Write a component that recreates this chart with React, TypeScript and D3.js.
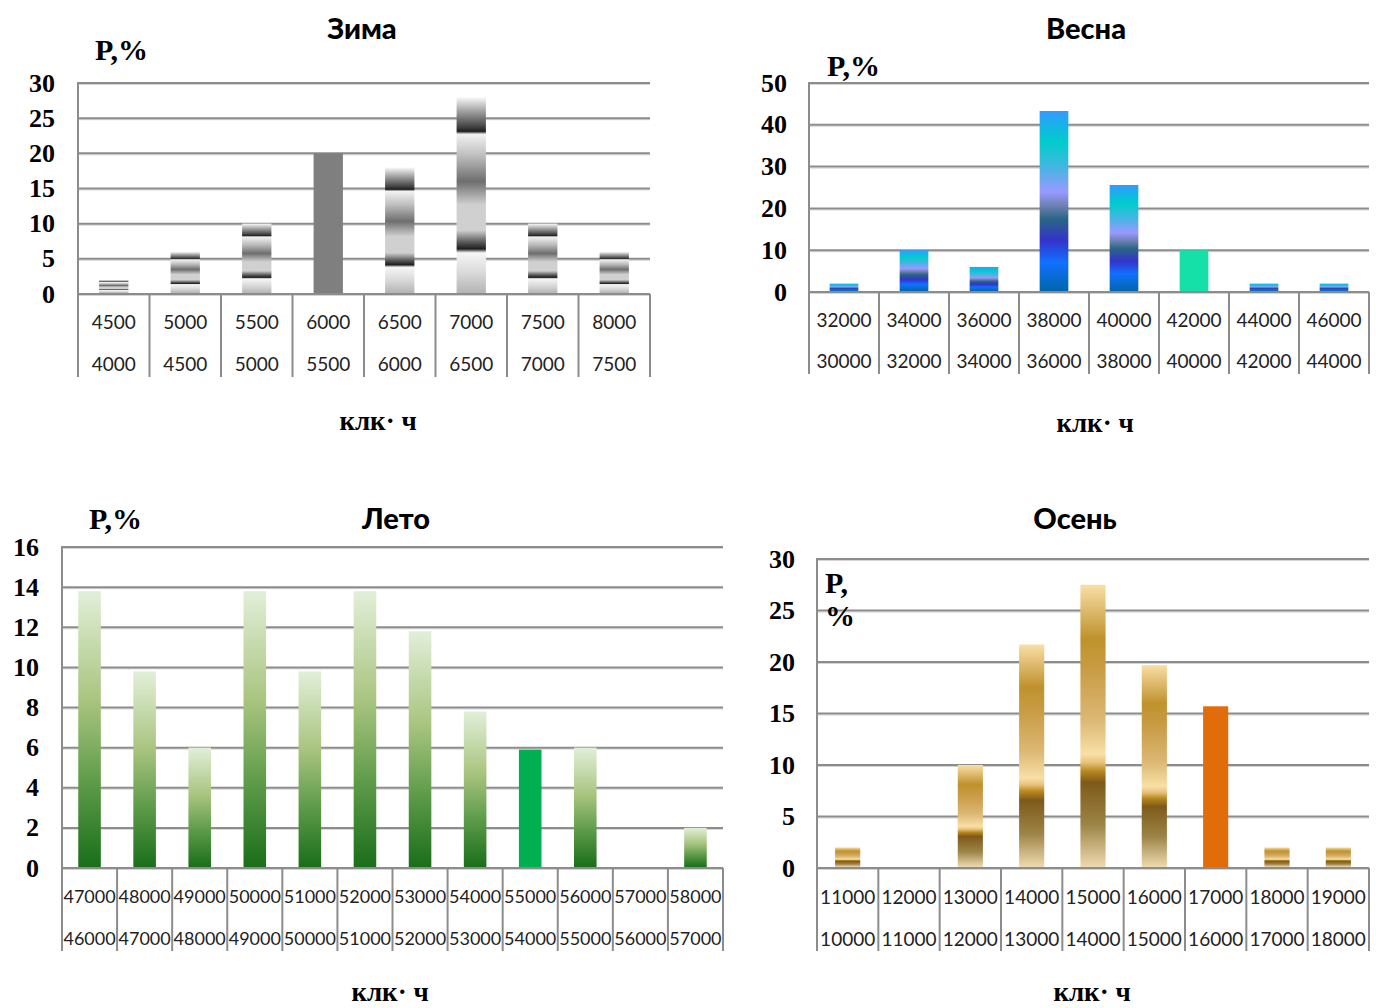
import React from "react";
import * as d3 from "d3";

// ---- data ----
const winterUpper = ["4500", "5000", "5500", "6000", "6500", "7000", "7500", "8000"];
const winterLower = ["4000", "4500", "5000", "5500", "6000", "6500", "7000", "7500"];
const winterValues = [2, 6, 10, 20, 18, 28, 10, 6];
const winterTicks = [0, 5, 10, 15, 20, 25, 30];

const springUpper = ["32000", "34000", "36000", "38000", "40000", "42000", "44000", "46000"];
const springLower = ["30000", "32000", "34000", "36000", "38000", "40000", "42000", "44000"];
const springValues = [2, 10, 6, 43.3, 25.6, 10, 2, 2];
const springTicks = [0, 10, 20, 30, 40, 50];

const summerUpper = ["47000", "48000", "49000", "50000", "51000", "52000", "53000", "54000", "55000", "56000", "57000", "58000"];
const summerLower = ["46000", "47000", "48000", "49000", "50000", "51000", "52000", "53000", "54000", "55000", "56000", "57000"];
const summerValues = [13.8, 9.8, 6, 13.8, 9.8, 13.8, 11.8, 7.8, 5.9, 6, 0, 2];
const summerTicks = [0, 2, 4, 6, 8, 10, 12, 14, 16];

const autumnUpper = ["11000", "12000", "13000", "14000", "15000", "16000", "17000", "18000", "19000"];
const autumnLower = ["10000", "11000", "12000", "13000", "14000", "15000", "16000", "17000", "18000"];
const autumnValues = [2, 0, 10, 21.7, 27.5, 19.7, 15.7, 2, 2];
const autumnTicks = [0, 5, 10, 15, 20, 25, 30];

const xTitle = "клк· ч";

// ---- gradients ----
type Stop = [number, string];
const chromeStops: Stop[] = [
  [0, "#fafafa"], [0.06, "#b0b0b0"], [0.15, "#454545"], [0.175, "#202020"], [0.19, "#f2f2f2"],
  [0.3, "#bdbdbd"], [0.43, "#6e6e6e"], [0.55, "#d0d0d0"], [0.68, "#d0d0d0"], [0.74, "#5a5a5a"],
  [0.775, "#1e1e1e"], [0.795, "#f6f6f6"], [0.9, "#d8d8d8"], [1, "#b4b4b4"],
];
const blueStops: Stop[] = [
  [0, "#3399ff"], [0.08, "#17b3e8"], [0.17, "#00cccc"], [0.3, "#3db8e0"], [0.45, "#9999ff"],
  [0.53, "#6a7fb0"], [0.6, "#2a6585"], [0.72, "#3333cc"], [0.84, "#1170ff"], [1, "#0066aa"],
];
const greenStops: Stop[] = [
  [0, "#e2efd9"], [0.4, "#a8c47e"], [0.7, "#5c9a48"], [1, "#1a6e1a"],
];
const goldStops: Stop[] = [
  [0, "#f9e0a6"], [0.07, "#e4c27a"], [0.19, "#bf922c"], [0.3, "#c99c45"], [0.48, "#dcb874"],
  [0.6, "#f8e0a6"], [0.63, "#e8c27a"], [0.66, "#b8891f"], [0.7, "#7e5a1a"], [0.85, "#9c8447"], [1, "#efdab0"],
];

interface PanelProps {
  id: string;
  title: string;
  upper: string[];
  lower: string[];
  values: number[];
  ticks: number[];
  stops: Stop[];
  solidIndex: number;
  solidColor: string;
  left: number; right: number; top: number; bottom: number; tableBottom: number;
  row1: number; row2: number;
  tickRight: number;
  titlePos: [number, number];
  yLabelLines: string[];
  yLabelPos: [number, number];
  yLabelGap: number;
  xLabelPos: [number, number];
  catFont: number;
}

const GRID = "#8c8c8c";

function Panel(p: PanelProps) {
  const cats = p.upper.map((_, i) => String(i));
  const x = d3.scaleBand().domain(cats).range([p.left, p.right]).paddingInner(0).paddingOuter(0);
  const y = d3.scaleLinear().domain([0, d3.max(p.ticks) as number]).range([p.bottom, p.top]);
  const bw = x.bandwidth() * 0.41;
  const bounds = cats.map((c) => x(c) as number).concat([p.right]);
  return (
    <g>
      <defs>
        <linearGradient id={p.id} x1="0" y1="0" x2="0" y2="1">
          {p.stops.map(([o, c], i) => (
            <stop key={i} offset={o} stopColor={c} />
          ))}
        </linearGradient>
      </defs>
      {p.ticks.map((t) => (
        <g key={t}>
          <line x1={p.left} x2={p.right} y1={y(t) + 1.5} y2={y(t) + 1.5} stroke="#d4d4d4" strokeWidth={1} />
          <line x1={p.left} x2={p.right} y1={y(t)} y2={y(t)} stroke={GRID} strokeWidth={2} />
          <text x={p.tickRight} y={y(t)} textAnchor="end" dominantBaseline="central"
            fontFamily="'Liberation Serif', serif" fontWeight="bold" fontSize={26} fill="#000">{t}</text>
        </g>
      ))}
      <line x1={p.left} x2={p.left} y1={p.top - 1} y2={p.tableBottom} stroke={GRID} strokeWidth={2} />
      {bounds.slice(1).map((bx, i) => (
        <line key={i} x1={bx} x2={bx} y1={p.bottom} y2={p.tableBottom} stroke={GRID} strokeWidth={2} />
      ))}
      {p.values.map((v, i) => {
        if (v <= 0) return null;
        const cx = (x(cats[i]) as number) + x.bandwidth() / 2;
        return (
          <rect key={i} x={cx - bw / 2} y={y(v)} width={bw} height={p.bottom - y(v) - 1}
            fill={i === p.solidIndex ? p.solidColor : `url(#${p.id})`} />
        );
      })}
      {p.upper.map((u, i) => {
        const cx = (x(cats[i]) as number) + x.bandwidth() / 2;
        return (
          <g key={i}>
            <text x={cx} y={p.row1} textAnchor="middle" dominantBaseline="central"
              fontFamily="Lato, sans-serif" fontSize={p.catFont} fill="#222">{u}</text>
            <text x={cx} y={p.row2} textAnchor="middle" dominantBaseline="central"
              fontFamily="Lato, sans-serif" fontSize={p.catFont} fill="#222">{p.lower[i]}</text>
          </g>
        );
      })}
      <text x={p.titlePos[0]} y={p.titlePos[1]} textAnchor="middle" dominantBaseline="central"
        fontFamily="Lato, sans-serif" fontWeight="900" fontSize={29} fill="#000">{p.title}</text>
      {p.yLabelLines.map((l, i) => (
        <text key={i} x={p.yLabelPos[0]} y={p.yLabelPos[1] + i * p.yLabelGap} dominantBaseline="central"
          fontFamily="'Liberation Serif', serif" fontWeight="bold" fontSize={30} fill="#000">{l}</text>
      ))}
      <text x={p.xLabelPos[0]} y={p.xLabelPos[1]} textAnchor="middle" dominantBaseline="central"
        fontFamily="'Liberation Serif', serif" fontWeight="bold" fontSize={27} fill="#000">{xTitle}</text>
    </g>
  );
}

export default function App() {
  return (
    <svg width={1376} height={1008} style={{ position: "absolute", left: 0, top: 0, background: "#fff" }}>
      <rect width={1376} height={1008} fill="#fff" />
      <Panel id="gWinter" title="Зима" upper={winterUpper} lower={winterLower} values={winterValues}
        ticks={winterTicks} stops={chromeStops} solidIndex={3} solidColor="#7f7f7f"
        left={78} right={650} top={83} bottom={294} tableBottom={377} row1={321} row2={363}
        tickRight={55} titlePos={[362, 27]} yLabelLines={["P,%"]} yLabelPos={[95, 49]} yLabelGap={0}
        xLabelPos={[378, 421]} catFont={19} />
      <Panel id="gSpring" title="Весна" upper={springUpper} lower={springLower} values={springValues}
        ticks={springTicks} stops={blueStops} solidIndex={5} solidColor="#14e0a8"
        left={809} right={1369} top={83} bottom={292} tableBottom={374} row1={319} row2={360}
        tickRight={787} titlePos={[1086, 27]} yLabelLines={["P,%"]} yLabelPos={[827, 65]} yLabelGap={0}
        xLabelPos={[1095, 423]} catFont={19} />
      <Panel id="gSummer" title="Лето" upper={summerUpper} lower={summerLower} values={summerValues}
        ticks={summerTicks} stops={greenStops} solidIndex={8} solidColor="#00b050"
        left={62} right={723} top={547} bottom={868} tableBottom={951} row1={896} row2={938}
        tickRight={39} titlePos={[396, 517]} yLabelLines={["P,%"]} yLabelPos={[89, 518]} yLabelGap={0}
        xLabelPos={[390, 992]} catFont={18} />
      <Panel id="gAutumn" title="Осень" upper={autumnUpper} lower={autumnLower} values={autumnValues}
        ticks={autumnTicks} stops={goldStops} solidIndex={6} solidColor="#e36c0a"
        left={817} right={1369} top={559} bottom={868} tableBottom={951} row1={896} row2={938}
        tickRight={795} titlePos={[1075, 517]} yLabelLines={["P,", "%"]} yLabelPos={[825, 582]} yLabelGap={33}
        xLabelPos={[1092, 992]} catFont={19} />
    </svg>
  );
}
